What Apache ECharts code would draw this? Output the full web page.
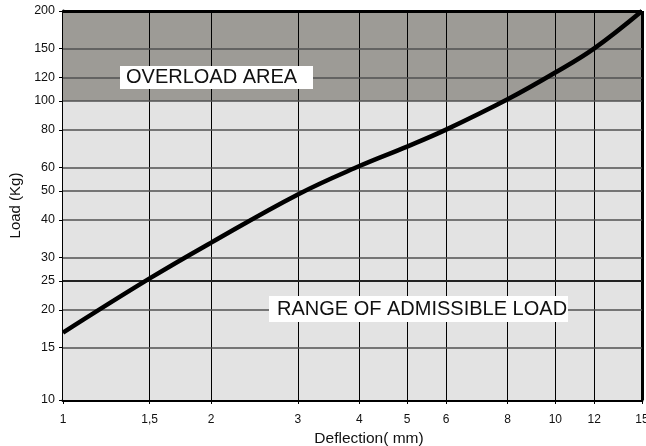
<!DOCTYPE html>
<html>
<head>
<meta charset="utf-8">
<script src="https://cdn.jsdelivr.net/npm/echarts@6/dist/echarts.min.js"></script>
<style>html,body{margin:0;padding:0;background:#fff}#c{width:646px;height:446px}</style>
</head>
<body>
<div id="c"></div>
<script>
// Data
var deflection = [1, 1.5, 2, 3, 4, 5, 6, 8, 10, 12, 15];
var load = [16.8, 25.5, 33.6, 48.7, 60.6, 70.4, 80.2, 101.3, 124.5, 150, 200];
var xTicks = [1, 1.5, 2, 3, 4, 5, 6, 8, 10, 12, 15];
var yTicks = [10, 15, 20, 25, 30, 40, 50, 60, 80, 100, 120, 150, 200];
var overloadLimit = 100;
var xName = 'Deflection( mm)';
var yName = 'Load (Kg)';
var overloadText = 'OVERLOAD AREA';
var rangeText = 'RANGE OF ADMISSIBLE LOAD';

var FONT = '"Liberation Sans", Arial, Helvetica, sans-serif';
var chart = echarts.init(document.getElementById('c'), null, {renderer: 'canvas'});

var gridLines = [];
xTicks.forEach(function (v) {
  if (v === 1) return;
  gridLines.push({xAxis: v, lineStyle: {color: '#000', width: v === 15 ? 3 : 1, type: 'solid'}});
});
yTicks.forEach(function (v) {
  if (v === 10) return;
  gridLines.push({yAxis: v, lineStyle: {color: v === 200 ? '#000' : (v === 25 ? '#222' : '#505050'), width: v === 200 ? 3 : (v === 25 ? 2 : 1.5), type: 'solid'}});
});

function fmt(v) {
  var r = Math.round(v * 10) / 10;
  return String(r).replace('.', ',');
}

chart.setOption({
  animation: false,
  grid: {left: 63, right: 4, top: 11, bottom: 46, outerBoundsMode: 'none', containLabel: false},
  xAxis: {
    type: 'log', logBase: 10, min: 1, max: 15,
    name: xName, nameLocation: 'middle', nameGap: 27,
    nameTextStyle: {fontFamily: FONT, fontSize: 15.5, color: '#111', padding: [0, 0, 0, 33]},
    axisLine: {show: true, lineStyle: {color: '#000', width: 3}},
    axisTick: {show: true, length: 4, customValues: xTicks, lineStyle: {color: '#000'}},
    axisLabel: {customValues: xTicks, formatter: fmt, fontFamily: FONT, fontSize: 12, color: '#111', margin: 14, hideOverlap: false, showMaxLabel: true},
    splitLine: {show: false},
    minorTick: {show: false}, minorSplitLine: {show: false}
  },
  yAxis: {
    type: 'log', logBase: 10, min: 10, max: 200,
    name: yName, nameLocation: 'middle', nameGap: 38, nameRotate: 90,
    nameTextStyle: {fontFamily: FONT, fontSize: 15, color: '#111'},
    axisLine: {show: true, lineStyle: {color: '#000', width: 3}},
    axisTick: {show: true, length: 4, customValues: yTicks, lineStyle: {color: '#000'}},
    axisLabel: {customValues: yTicks, formatter: function (v) { return String(Math.round(v)); }, fontFamily: FONT, fontSize: 12.5, color: '#111', margin: 8},
    splitLine: {show: false},
    minorTick: {show: false}, minorSplitLine: {show: false}
  },
  series: [
    {
      type: 'line', z: 1, silent: true, clip: false,
      data: [], symbol: 'none',
      markArea: {
        silent: true,
        data: [
          [{yAxis: 10, itemStyle: {color: '#e3e3e3'}}, {yAxis: overloadLimit}],
          [{yAxis: overloadLimit, itemStyle: {color: '#9d9b96'}}, {yAxis: 200}]
        ]
      },
      markLine: {
        silent: true, symbol: ['none', 'none'], label: {show: false},
        animation: false,
        data: gridLines
      }
    },
    {
      type: 'line', z: 5, smooth: 0.4, symbol: 'none', clip: true,
      data: deflection.map(function (x, i) { return [x, load[i]]; }),
      lineStyle: {color: '#000', width: 4.5}
    }
  ],
  graphic: [
    {type: 'rect', z: 100, shape: {x: 120, y: 66, width: 193, height: 23}, style: {fill: '#fff'}},
    {type: 'text', z: 101, x: 126, y: 77.5, style: {text: overloadText, font: '20px ' + FONT, fill: '#111', verticalAlign: 'middle'}},
    {type: 'rect', z: 100, shape: {x: 269, y: 296, width: 299, height: 26}, style: {fill: '#fff'}},
    {type: 'text', z: 101, x: 277, y: 309, style: {text: rangeText, font: '20px ' + FONT, fill: '#111', verticalAlign: 'middle'}}
  ]
});
</script>
</body>
</html>
